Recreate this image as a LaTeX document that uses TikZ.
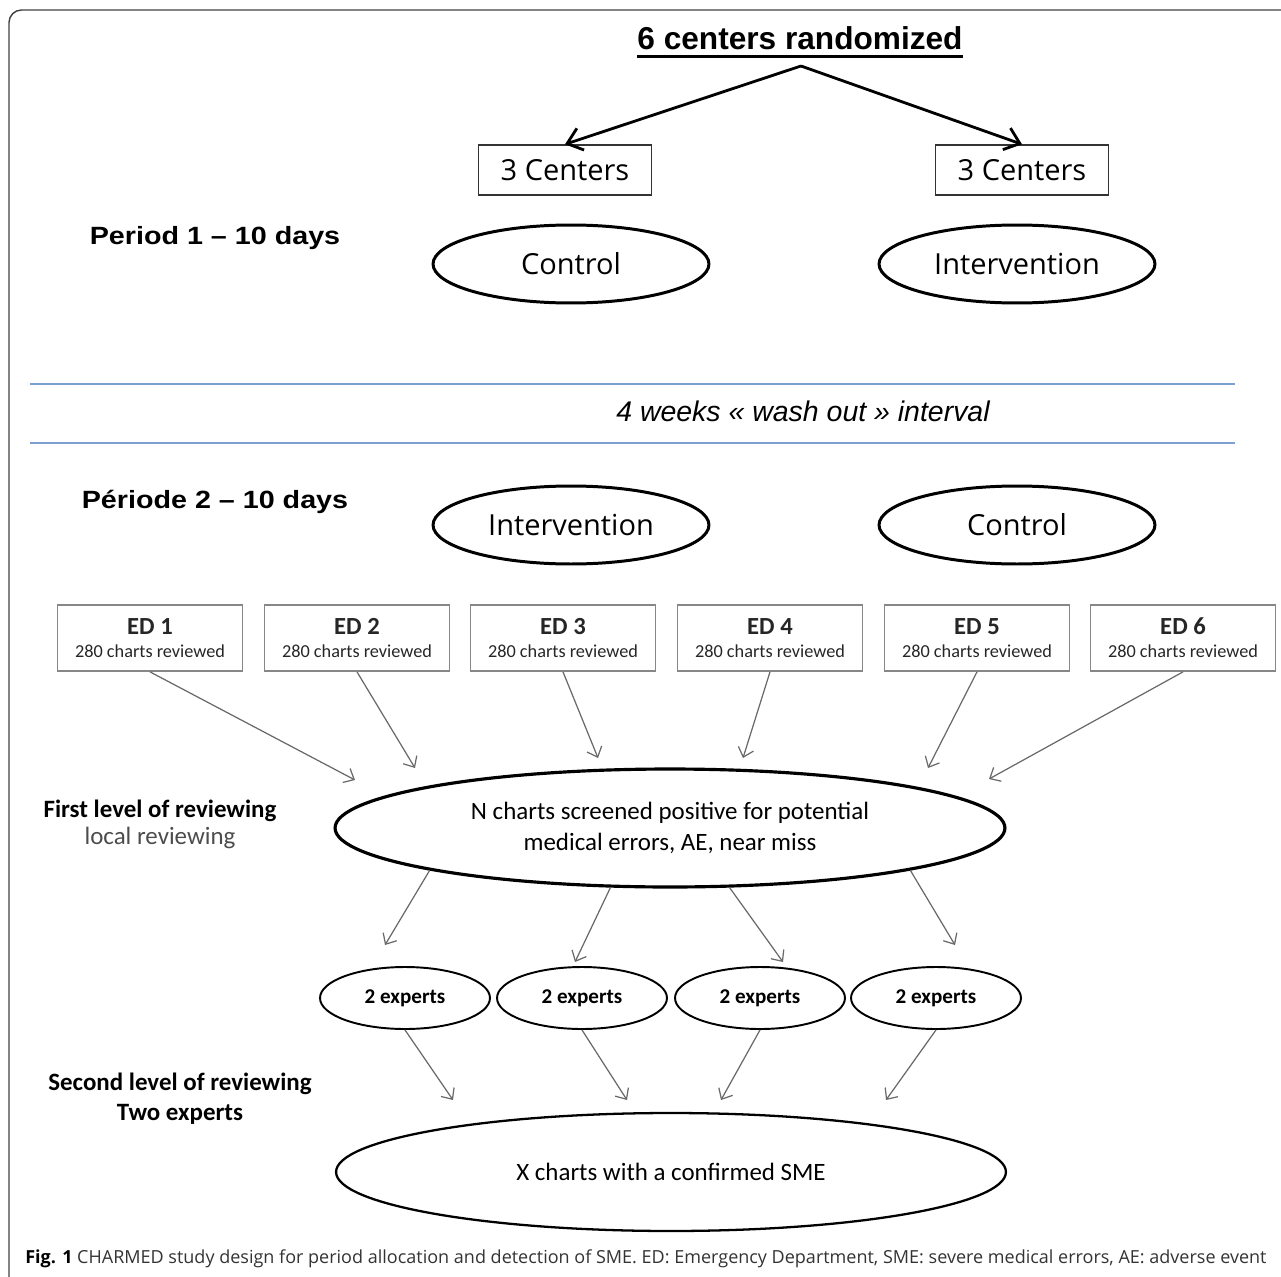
\documentclass[tikz,border=0pt]{standalone}
\usepackage{fontspec}
\setmainfont{Liberation Sans}
\newfontfamily\widesans[FakeStretch=1.15]{Liberation Sans}
\newfontfamily\calfont{Carlito}
\newfontfamily\opfont{Open Sans}
\usetikzlibrary{arrows.meta,shapes.geometric}

\definecolor{washblue}{RGB}{125,160,210}
\definecolor{feedgray}{RGB}{105,105,105}
\definecolor{boxgray}{RGB}{135,135,135}

\tikzset{
  armbox/.style={draw=black!80, line width=0.8pt, minimum width=3.46cm, minimum height=1cm,
    inner sep=0pt, font=\opfont\fontsize{16.5}{19}\selectfont},
  armoval/.style={ellipse, draw, line width=1.7pt, minimum width=5.52cm, minimum height=1.56cm,
    inner sep=0pt, font=\opfont\fontsize{16.5}{19}\selectfont},
  edbox/.style={draw=boxgray, line width=1pt, minimum width=3.7cm, minimum height=1.32cm,
    inner sep=0pt, align=center, text=black!85},
  expoval/.style={ellipse, draw, line width=1.1pt, minimum width=3.4cm, minimum height=1.24cm,
    inner sep=0pt, font=\calfont\bfseries\fontsize{12}{14}\selectfont},
  bigoval/.style={ellipse, draw, minimum width=13.4cm, minimum height=2.36cm, inner sep=0pt,
    align=center, font=\calfont\fontsize{14.2}{17.6}\selectfont},
  sidelabel/.style={anchor=base, font=\calfont\bfseries\fontsize{14.2}{17}\selectfont},
  periodlabel/.style={anchor=base, font=\widesans\bfseries\fontsize{14.2}{17}\selectfont},
  split/.style={line width=1.6pt, -{Straight Barb[length=8pt,width=13pt]}},
  feed/.style={draw=feedgray, line width=0.7pt, -{Straight Barb[length=5pt,width=9pt]}},
  washline/.style={draw=washblue, line width=1.2pt}
}

\begin{document}
\begin{tikzpicture}[x=0.02cm, y=-0.02cm]
        \useasboundingbox (0,0) rectangle (1281,1277);

        % Draw the frame
        \draw[black!75, line width=0.8pt, rounded corners=0.25cm] (9,1277) -- (9,10) -- (1281,10);

        % Randomization
        \node[anchor=base, inner sep=0pt, font=\bfseries\fontsize{18}{21}\selectfont] (title) at (800,50) {6 centers randomized};
        \draw[line width=1.6pt] ([yshift=-3.5pt]title.base west) -- ([yshift=-3.5pt]title.base east);
        \coordinate (apex) at (801,66);

        \node[armbox] (c1) at (565,170) {3 Centers};
        \node[armbox] (c2) at (1022,170) {3 Centers};
        \draw[split] (apex) -- (c1.north);
        \draw[split] (apex) -- (c2.north);

        % Period 1
        \node[periodlabel] (p1) at (215,245) {Period 1 – 10 days};
        \node[armoval] (ctl1) at (571,264) {Control};
        \node[armoval] (int1) at (1017,264) {Intervention};

        % Wash out interval
        \draw[washline] (30,384) -- (1235,384);
        \draw[washline] (30,443) -- (1235,443);
        \node[anchor=base, font=\itshape\fontsize{16.2}{19}\selectfont] (wash) at (803,421) {4 weeks « wash out » interval};

        % Period 2
        \node[periodlabel] (p2) at (215,508) {Période 2 – 10 days};
        \node[armoval] (int2) at (571,525) {Intervention};
        \node[armoval] (ctl2) at (1017,525) {Control};

        % Emergency departments
        \foreach \i/\x in {1/150,2/357,3/563,4/770,5/977,6/1183} {
            \node[edbox] (ed\i) at (\x,638) {{\calfont\bfseries\fontsize{14}{15}\selectfont ED \i}\\[1pt]
                {\calfont\fontsize{10.4}{12}\selectfont 280 charts reviewed}};
        }

        % First level of reviewing
        \node[sidelabel] (first) at (160,817) {First level of reviewing};
        \node[anchor=base, text=black!70, font=\calfont\fontsize{14.2}{17}\selectfont] (local) at (160,844) {local reviewing};
        \node[bigoval, line width=1.8pt] (screen) at (670,828) {N charts screened positive for potential\\medical errors, AE, near miss};

        \foreach \i/\ex/\ey in {1/355/780,2/415/768,3/598/758,4/743/758,5/928/768,6/989/779} {
            \coordinate (in\i) at (\ex,\ey);
            \draw[feed] (ed\i.south) -- (in\i);
        }

        % Experts
        \foreach \i/\x in {1/405,2/582,3/760,4/936} {
            \node[expoval] (ex\i) at (\x,998) {2 experts};
        }
        \foreach \i/\a/\ex/\ey in {1/190/385/945,2/225/575/962,3/-45/783/962,4/-10/955/945} {
            \coordinate (to\i) at (\ex,\ey);
            \draw[feed] (screen.\a) -- (to\i);
        }

        % Second level of reviewing
        \node[sidelabel] (second) at (180,1090) {Second level of reviewing};
        \node[sidelabel] (two) at (180,1120) {Two experts};
        \node[bigoval, line width=1.3pt] (sme) at (671,1172) {X charts with a confirmed SME};

        \foreach \i/\ex in {1/453,2/627,3/721,4/886} {
            \coordinate (out\i) at (\ex,1100);
            \draw[feed] (ex\i.south) -- (out\i);
        }

        % Caption
        \node[anchor=base west, inner sep=0pt, text=black!80, font=\opfont\fontsize{10.25}{12}\selectfont] (cap) at (25,1263)
            {{\bfseries\color{black}Fig. 1} CHARMED study design for period allocation and detection of SME. ED: Emergency Department, SME: severe medical errors, AE: adverse event};
\end{tikzpicture}
\end{document}
